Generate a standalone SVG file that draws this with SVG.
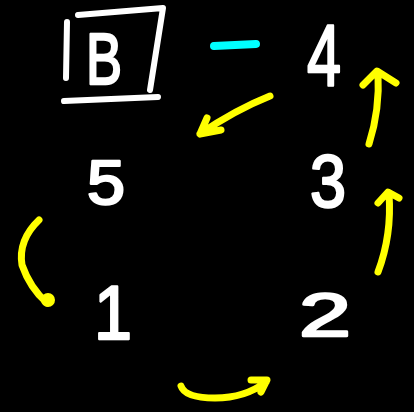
<svg xmlns="http://www.w3.org/2000/svg" width="414" height="412" viewBox="0 0 414 412">
<style>
.bg{fill:#000}
.lbl{fill:#fff;stroke:#fff;stroke-width:2.5;stroke-linejoin:round;font-family:"Liberation Sans","DejaVu Sans",sans-serif;font-weight:normal;text-anchor:middle}
.box{fill:none;stroke:#fff;stroke-width:6;stroke-linecap:round;stroke-linejoin:round}
.arr{fill:none;stroke:#ffff00;stroke-width:7;stroke-linecap:round;stroke-linejoin:round}
.dash{fill:none;stroke:#00ffff;stroke-width:8;stroke-linecap:round}
</style>
<rect class="bg" x="0" y="0" width="414" height="412"/>
<g id="nodeB">
<path class="box" d="M67,22 L66,78 M78,15 L163,8 L150,90 M64,101 L158,97"/>
<text class="lbl" x="104" y="84" font-size="72" textLength="36" lengthAdjust="spacingAndGlyphs">B</text>
</g>
<g id="dash">
<path class="dash" d="M214,46 L256,44"/>
</g>
<g id="node4"><text class="lbl" x="324" y="86" font-size="88" textLength="34" lengthAdjust="spacingAndGlyphs">4</text></g>
<g id="node3"><text class="lbl" x="328" y="207" font-size="74" textLength="36" lengthAdjust="spacingAndGlyphs">3</text></g>
<g id="node5"><text class="lbl" x="106" y="204" font-size="63" textLength="38" lengthAdjust="spacingAndGlyphs">5</text></g>
<g id="node1"><text class="lbl" x="113" y="339" font-size="76" textLength="38" lengthAdjust="spacingAndGlyphs">1</text></g>
<g id="node2"><text class="lbl" x="325" y="336" font-size="62" textLength="52" lengthAdjust="spacingAndGlyphs">2</text></g>
<g id="connectors">
<path class="arr" d="M369,144 Q380,110 378,72 M363,85 L377,71 L396,83"/>
<path class="arr" d="M378,272 Q392,235 389,194 M378,203 L388,192 L399,198"/>
<path class="arr" d="M270,96 Q235,110 200,134 M207,118 L200,134 L221,130"/>
<path class="arr" d="M39,220 Q18,240 22,265 Q30,288 47,303"/>
<circle cx="48" cy="300" r="7" fill="#ffff00"/>
<path class="arr" d="M181,386 Q185,398 215,398 Q245,398 266,382 M251,380 L267,380 L261,392"/>
</g>
</svg>
